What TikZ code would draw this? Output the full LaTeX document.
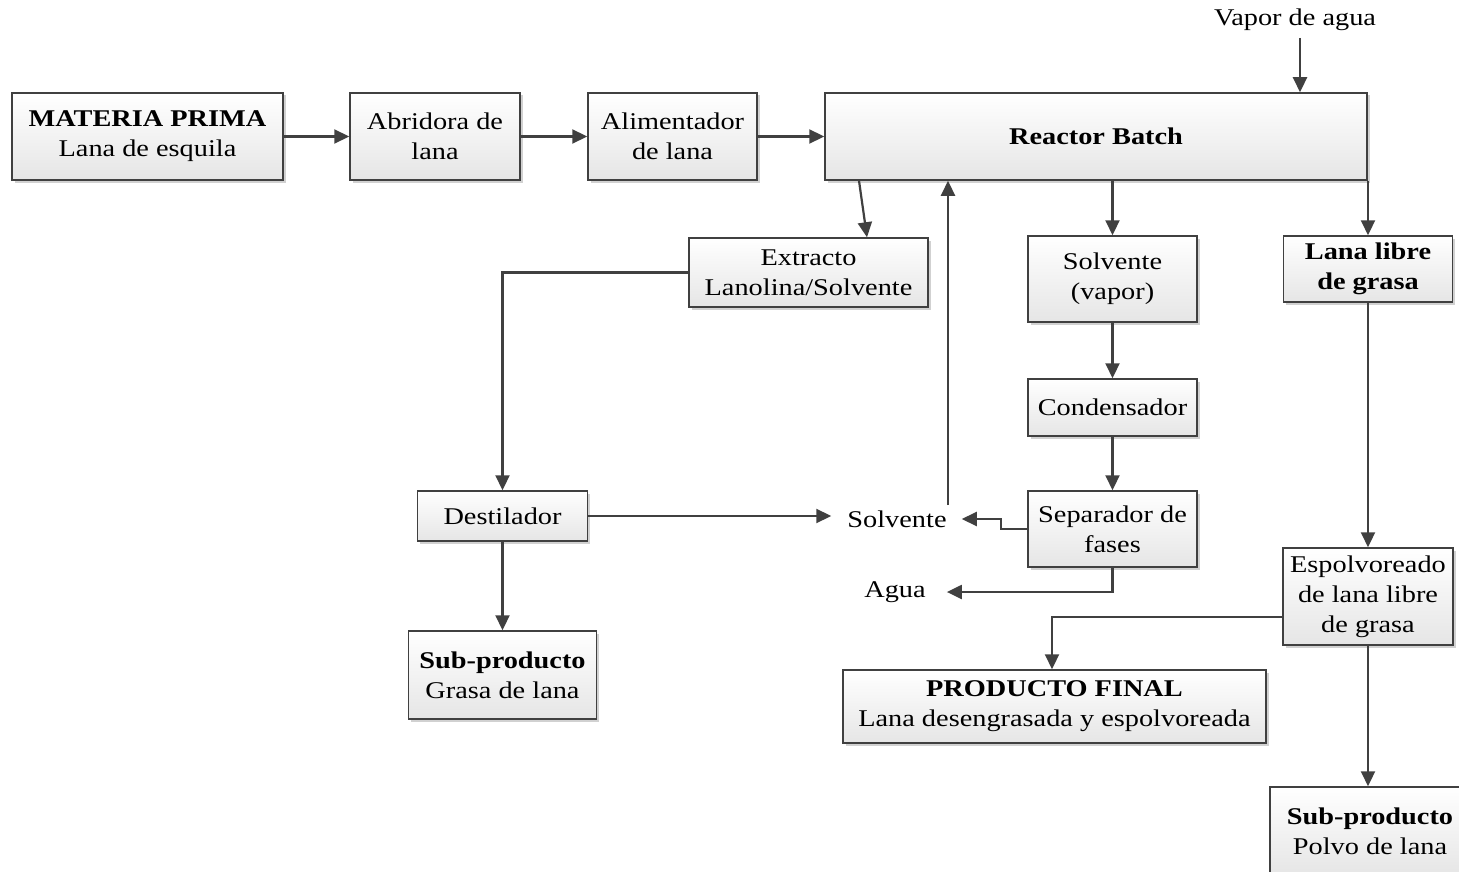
\documentclass[tikz,border=0pt]{standalone}
\usepackage{fontspec}
\setmainfont{Liberation Serif}[FakeStretch=1.18]
\usetikzlibrary{arrows.meta,shadows}
\definecolor{linec}{HTML}{404040}
\begin{document}
\begin{tikzpicture}[x=1pt,y=-1pt,
  every node/.style={font=\fontsize{24}{30}\selectfont, align=center},
  pbox/.style={draw=linec, line width=1.5pt, top color=white, bottom color=black!10,
    drop shadow={shadow xshift=2.5pt, shadow yshift=-2.5pt, fill=black!30, opacity=0.6},
    inner sep=0pt},
  lbl/.style={inner sep=0pt},
  arr/.style={draw=linec, line width=2.2pt, -{Triangle[length=15pt,width=14pt]}}]
\useasboundingbox (0,0) rectangle (1459,872);

\node[pbox, minimum width=271pt, minimum height=87pt] (mp) at (147.5,136.5) {\textbf{MATERIA PRIMA}\\Lana de esquila};
\node[pbox, minimum width=170pt, minimum height=87pt] (abr) at (435,136.5) {Abridora de\\lana};
\node[pbox, minimum width=169pt, minimum height=87pt] (ali) at (672.5,136.5) {Alimentador\\de lana};
\node[pbox, minimum width=542pt, minimum height=87pt] (reac) at (1096,136.5) {\textbf{Reactor Batch}};
\node[pbox, minimum width=239pt, minimum height=69pt] (ext) at (808.5,272.5) {Extracto\\Lanolina/Solvente};
\node[pbox, minimum width=169pt, minimum height=86pt] (solv) at (1112.5,279) {Solvente\\(vapor)};
\node[pbox, minimum width=169pt, minimum height=57pt] (cond) at (1112.5,407.5) {Condensador};
\node[pbox, minimum width=169pt, minimum height=76pt] (sep) at (1112.5,529) {Separador de\\fases};
\node[pbox, minimum width=169pt, minimum height=66pt] (lana) at (1368,269) {\textbf{Lana libre}\\\textbf{de grasa}};
\node[pbox, minimum width=170pt, minimum height=97pt] (esp) at (1368,596.5) {Espolvoreado\\de lana libre\\de grasa};
\node[pbox, minimum width=423pt, minimum height=73pt] (pf) at (1054.5,706.5) {\textbf{PRODUCTO FINAL}\\Lana desengrasada y espolvoreada};
\node[pbox, minimum width=200pt, minimum height=88pt] (polvo) at (1370,831) {\textbf{Sub-producto}\\Polvo de lana};
\node[pbox, minimum width=170pt, minimum height=50pt] (dest) at (502.5,516) {Destilador};
\node[pbox, minimum width=188pt, minimum height=88pt] (grasa) at (502.5,675) {\textbf{Sub-producto}\\Grasa de lana};

\node[lbl] (vapor) at (1295,20) {Vapor de agua};
\node[lbl] (solvlab) at (897,519) {Solvente};
\node[lbl] (agua) at (895,592) {Agua};

\coordinate (vtop) at (1300,38);
\coordinate (sl) at (948,505);

\draw[arr] (mp) -- (abr);
\draw[arr] (abr) -- (ali);
\draw[arr] (ali) -- (reac);
\draw[arr] (vtop) -- (vtop |- reac.north);
\draw[arr] (reac.south -| 859,0) -- (ext.north -| 867,0);
\draw[arr] (sl) -- (sl |- reac.south);
\draw[arr] (reac.south -| solv.north) -- (solv.north);
\draw[arr] (lana.north |- reac.south) -- (lana.north);
\draw[arr] (solv) -- (cond);
\draw[arr] (cond) -- (sep);
\draw[arr] (sep.west) -- ++(-26,0) |- ([xshift=15pt]solvlab.east);
\draw[arr] (sep.south) |- ([xshift=21pt]agua.east);
\draw[arr] (ext.west) -| (dest.north);
\draw[arr] (dest.east) -- ([xshift=-16pt]solvlab.west |- dest.east);
\draw[arr] (dest) -- (grasa);
\draw[arr] (lana) -- (esp);
\draw[arr] (esp.west |- 0,617) -| (pf.north -| 1052,0);
\draw[arr] (esp.south) -- (esp.south |- polvo.north);
\end{tikzpicture}
\end{document}
